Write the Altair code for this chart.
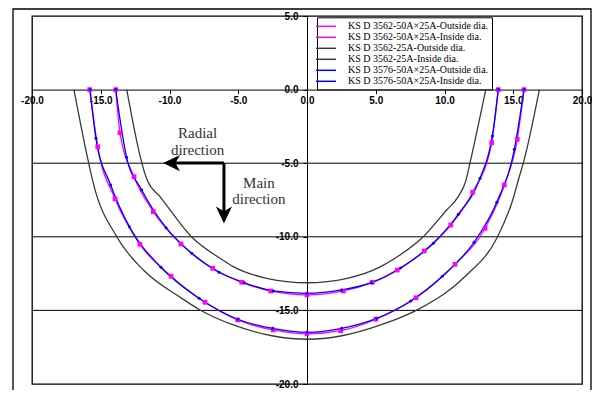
import altair as alt
import pandas as pd

# ---------------- data ----------------
S1 = "KS D 3562-50A×25A-Outside dia."
S2 = "KS D 3562-50A×25A-Inside dia."
S3 = "KS D 3562-25A-Outside dia."
S4 = "KS D 3562-25A-Inside dia."
S5 = "KS D 3576-50A×25A-Outside dia."
S6 = "KS D 3576-50A×25A-Inside dia."
series_names = [S1, S2, S3, S4, S5, S6]
series_colors = ["#FF00FF", "#FF00FF", "#3a3a3a", "#3a3a3a", "#0000FF", "#0000FF"]

s1_x = [-15.8, -15.22, -13.96, -12.15, -9.89, -7.42, -5.04, -2.45, 0.0, 2.45, 5.0, 7.93, 10.76, 12.95, 14.35, 15.29, 15.78]
s1_y = [0.0, -3.88, -7.42, -10.51, -12.68, -14.45, -15.65, -16.33, -16.6, -16.38, -15.6, -14.14, -11.87, -9.42, -6.48, -3.38, 0.0]

s2_x = [-13.91, -13.6, -12.58, -11.18, -9.16, -6.86, -4.75, -2.64, 0.0, 2.64, 4.75, 6.57, 8.53, 10.45, 12.05, 13.43, 13.91]
s2_y = [0.0, -2.93, -5.92, -8.29, -10.49, -12.14, -13.09, -13.68, -13.95, -13.68, -13.09, -12.26, -10.96, -9.2, -6.98, -3.6, 0.0]

s3_x = [-16.95, -15.9, -15.54, -13.84, -11.9, -9.24, -7.78, -5.36, -2.45, 0.0, 2.45, 5.36, 8.22, 11.61, 13.8, 15.0, 15.37, 15.73, 16.9]
s3_y = [0.0, -4.9, -6.37, -9.99, -12.26, -14.1, -14.97, -15.99, -16.74, -16.96, -16.74, -15.99, -14.86, -12.6, -10.1, -7.38, -6.14, -5.0, 0.0]

s4_x = [-13.11, -11.6, -10.69, -8.39, -6.33, -5.36, -2.93, 0.0, 2.93, 5.36, 6.76, 8.34, 10.16, 11.0, 11.55, 11.85, 13.0]
s4_y = [0.0, -6.2, -7.27, -10.01, -11.46, -12.03, -12.82, -13.12, -12.82, -12.03, -11.24, -10.1, -8.18, -7.27, -6.2, -5.0, 0.0]

s5_x = [-15.78, -15.35, -14.28, -12.92, -10.62, -7.85, -5.04, -2.49, 0.0, 2.52, 5.07, 7.54, 9.84, 12.15, 13.8, 15.08, 15.78]
s5_y = [0.0, -3.31, -6.48, -9.31, -12.07, -14.18, -15.6, -16.22, -16.49, -16.22, -15.54, -14.36, -12.68, -10.37, -7.66, -4.06, 0.0]

s6_x = [-13.91, -13.12, -12.02, -10.25, -8.39, -6.4, -4.56, -2.45, 0.0, 2.52, 4.7, 6.8, 9.19, 11.0, 12.58, 13.48, 13.91]
s6_y = [0.0, -4.6, -6.82, -9.38, -11.12, -12.41, -13.12, -13.68, -13.84, -13.61, -13.12, -12.12, -10.44, -8.47, -6.03, -3.15, 0.0]

x_ticks = [-20, -15, -10, -5, 0, 5, 10, 15, 20]
y_ticks = [5, 0, -5, -10, -15, -20]
grid_y = [-5, -10, -15]

# annotation text and arrows
ann_text = ["Radial", "direction", "Main", "direction"]
ann_x = [-7.96, -7.96, -3.5, -3.5]
ann_y = [-2.95, -4.1, -6.35, -7.45]
arrow_corner = (-6.04, -4.99)
arrow_left_tip = (-10.47, -4.99)
arrow_down_tip = (-6.04, -9.1)

# ---------------- build tables ----------------
rows = []
for name, xs, ys in [(S1, s1_x, s1_y), (S2, s2_x, s2_y), (S3, s3_x, s3_y),
                     (S4, s4_x, s4_y), (S5, s5_x, s5_y), (S6, s6_x, s6_y)]:
    for i, (xv, yv) in enumerate(zip(xs, ys)):
        rows.append({"series": name, "x": xv, "y": yv, "i": i})
df = pd.DataFrame(rows)

W, H = 550, 368
xscale = alt.Scale(domain=[-20, 20], nice=False, zero=False)
yscale = alt.Scale(domain=[-20, 5], nice=False, zero=False)
lab = "replace(format(datum.value, '.1f'), '\u2212', '-')"
x_zero_from_top = H * 5 / 25
xaxis = alt.Axis(values=x_ticks, labelExpr=lab, title=None, grid=False,
                 offset=-(H - x_zero_from_top), orient="bottom",
                 labelFlush=False, labelOverlap=False, tickSize=4, labelPadding=2)
yaxis = alt.Axis(values=y_ticks, labelExpr=lab, title=None, grid=False,
                 offset=-(W / 2), orient="left",
                 labelFlush=False, labelOverlap=False, tickSize=4, labelPadding=5)

X = alt.X("x:Q", scale=xscale, axis=xaxis)
Y = alt.Y("y:Q", scale=yscale, axis=yaxis)

legend = alt.Legend(title=None, orient="none", legendX=285, legendY=1.3,
                    symbolType="M-2,0H2", symbolSize=100, symbolStrokeWidth=1.5,
                    labelFont="Liberation Serif", labelFontSize=10, labelColor="black",
                    fillColor="white", strokeColor="black", padding=3,
                    rowPadding=-1.3, labelOffset=16, labelLimit=400)
color = alt.Color("series:N", scale=alt.Scale(domain=series_names, range=series_colors),
                  legend=legend)

grid = alt.Chart(pd.DataFrame({"y": grid_y})).mark_rule(color="black", strokeWidth=1).encode(y=Y)

lines = alt.Chart(df).mark_line(strokeWidth=1.3, interpolate="monotone").encode(
    x=X, y=Y, color=color, order=alt.Order("i:Q"))

sq = alt.Chart(df).transform_filter(
    alt.FieldOneOfPredicate(field="series", oneOf=[S1, S2])
).mark_point(shape="square", filled=True, size=22, opacity=1).encode(x=X, y=Y, color=color)

dots = alt.Chart(df).transform_filter(
    alt.FieldOneOfPredicate(field="series", oneOf=[S5, S6])
).mark_point(shape="circle", filled=True, size=9, opacity=1).encode(x=X, y=Y, color=color)

arrow_df = pd.DataFrame({
    "x": [arrow_corner[0], arrow_corner[0]],
    "y": [arrow_corner[1], arrow_corner[1]],
    "x2": [arrow_left_tip[0] + 0.6, arrow_corner[0]],
    "y2": [arrow_corner[1], arrow_down_tip[1] + 0.6],
})
arrows = alt.Chart(arrow_df).mark_rule(color="black", strokeWidth=3).encode(
    x=X, y=Y, x2="x2:Q", y2="y2:Q")

head_left = alt.Chart(pd.DataFrame({"x": [arrow_left_tip[0]], "y": [arrow_left_tip[1]]})).mark_point(
    shape="M-1,0L1,-0.95L0.45,0L1,0.95Z", filled=True, size=289, color="black", opacity=1,
    xOffset=8.5).encode(x=X, y=Y)
head_down = alt.Chart(pd.DataFrame({"x": [arrow_down_tip[0]], "y": [arrow_down_tip[1]]})).mark_point(
    shape="M0,1L-0.95,-1L0,-0.45L0.95,-1Z", filled=True, size=289, color="black", opacity=1,
    yOffset=-8.5).encode(x=X, y=Y)

texts = alt.Chart(pd.DataFrame({"x": ann_x, "y": ann_y, "t": ann_text})).mark_text(
    font="Liberation Serif", fontSize=15, color="#333333").encode(x=X, y=Y, text="t:N")

frame = alt.Chart(alt.Data(values=[{}])).mark_rect(
    fillOpacity=0, stroke="black", strokeWidth=1.3, clip=False).encode(
    x=alt.value(-19), x2=alt.value(559), y=alt.value(-7), y2=alt.value(420))

chart = alt.layer(frame, grid, lines, sq, dots, arrows, head_left, head_down, texts).properties(
    width=W, height=H,
    autosize=alt.AutoSizeParams(type="none"),
    padding={"left": 24, "top": 8, "right": 10, "bottom": 6},
    background="white",
).configure_view(stroke="black", strokeWidth=1.3).configure_axis(
    labelFont="Liberation Sans", labelFontWeight="bold", labelFontSize=10,
    labelColor="black", domainColor="black", tickColor="black", domainWidth=1, tickWidth=1
)

chart.save("out.html", embed_options={"renderer": "svg", "actions": False})
